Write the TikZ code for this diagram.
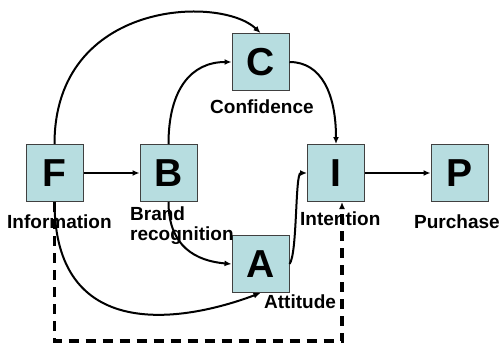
\documentclass[tikz,border=0pt]{standalone}
\usepackage{fontspec}
\setmainfont{Liberation Sans}
\usetikzlibrary{arrows.meta}
\definecolor{boxfill}{RGB}{183,221,224}
\definecolor{boxline}{RGB}{64,64,64}
\begin{document}
\begin{tikzpicture}[x=1pt,y=-1pt,
  box/.style={draw=boxline,line width=1pt,fill=boxfill,minimum size=57pt,inner sep=0pt,
    font=\fontsize{39}{39}\selectfont\bfseries},
  lbl/.style={font=\fontsize{19}{20}\selectfont\bfseries,inner sep=0pt,anchor=base west},
  conn/.style={line width=2pt,-{Latex[length=7pt,width=6pt]}},
  dconn/.style={line width=3.2pt,dash pattern=on 10pt off 7pt,-{Latex[length=7pt,width=6pt]}}]
\useasboundingbox (0,0) rectangle (499,343);

\node[box] (F) at (54.5,173) {F};
\node[box] (B) at (168.5,173) {B};
\node[box] (C) at (260.5,62) {C};
\node[box] (I) at (336,173) {I};
\node[box] (P) at (459.5,173) {P};
\node[box] (A) at (260.5,264) {A};

\draw[conn] (F.east) -- (B.west);
\draw[conn] (I.east) -- (P.west);
\draw[conn] (F.north) .. controls +(0,-144) and +(-40,-38) .. (C.north);
\draw[conn] (B.north) .. controls +(0,-55) and +(-40,0) .. (C.west);
\draw[conn] (C.east) .. controls +(32,0) and +(0,-50) .. (I.north);
\draw[conn] (B.south) .. controls +(0,45) and +(-35,-3) .. (A.west);
\draw[conn] (A.east) .. controls +(8,-10) and +(-12,0) .. (I.west);
\draw[conn] (F.south) .. controls +(0,140) and +(-80,30) .. (A.south);

\coordinate (dc) at (342,341);
\draw[dconn] (F.south) |- (dc) -- (dc |- I.south);

\node[lbl] (lF) at (7,228) {Information};
\node[lbl] (lB1) at (130,220) {Brand};
\node[lbl] (lB2) at (130,240) {recognition};
\node[lbl] (lC) at (210,113) {Confidence};
\node[lbl] (lI) at (300,225) {Intention};
\node[lbl] (lP) at (414,228) {Purchase};
\node[lbl] (lA) at (264,308) {Attitude};
\end{tikzpicture}
\end{document}
